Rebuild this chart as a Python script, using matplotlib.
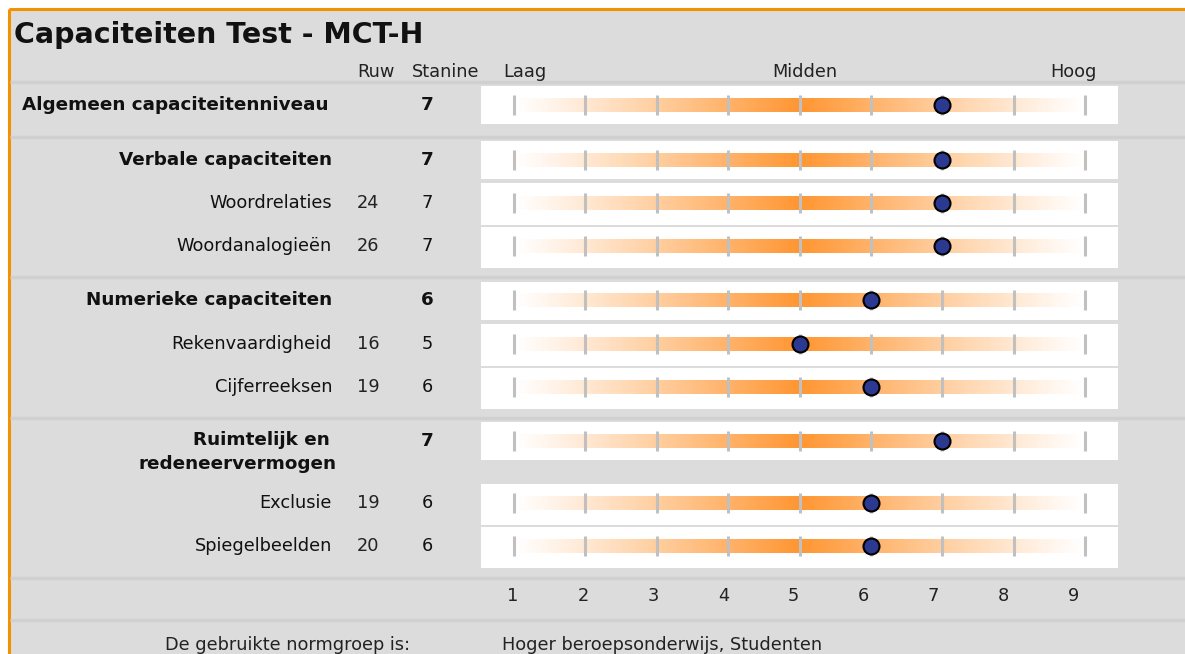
import numpy as np
import matplotlib.pyplot as plt
from matplotlib.colors import LinearSegmentedColormap

# data
labels = ['Algemeen capaciteitenniveau', 'Verbale capaciteiten', 'Woordrelaties',
          'Woordanalogieën', 'Numerieke capaciteiten', 'Rekenvaardigheid',
          'Cijferreeksen', 'Ruimtelijk en \nredeneervermogen', 'Exclusie', 'Spiegelbeelden']
ruw = ['', '', '24', '26', '', '16', '19', '', '19', '20']
stanine = [7, 7, 7, 7, 6, 5, 6, 7, 6, 6]
is_header = [True, True, False, False, True, False, False, True, False, False]
scale_ticks = [1, 2, 3, 4, 5, 6, 7, 8, 9]
scale_words = ['Laag', 'Midden', 'Hoog']
title = 'Capaciteiten Test - MCT-H'
norm_label = 'De gebruikte normgroep is:'
norm_value = 'Hoger beroepsonderwijs, Studenten'

# layout (pixels)
W, H = 1185, 654
row_y = [105, 160, 203, 246, 300, 344, 387, 441, 503, 546]
box_top = [86, 141, 183, 227, 282, 324, 368, 422, 484, 527]
box_bot = [124, 179, 225, 268, 320, 366, 409, 460, 525, 568]
seps = [82, 137, 277, 418, 578, 620]
x_lo, x_hi = 514, 1085
step = (x_hi - x_lo) / 8.0
fs = 12.8
fsb = 13.2


def sx(s):
    return x_lo + (s - 1) * step


fig = plt.figure(figsize=(W / 100, H / 100), dpi=100)
ax = fig.add_axes([0, 0, 1, 1])
ax.set_xlim(0, W)
ax.set_ylim(H, 0)
ax.axis('off')

grey = '#dcdcdc'
ax.add_patch(plt.Rectangle((9, 9), W, H, facecolor=grey, edgecolor='none'))
ax.plot([9, W], [9, 9], color='#f39200', lw=2.2, solid_capstyle='butt')
ax.plot([9, 9], [9, H], color='#f39200', lw=2.2, solid_capstyle='butt')

for y in seps:
    ax.plot([10, W], [y, y], color='#d0d0d0', lw=2.5, solid_capstyle='butt')

ax.text(14, 35, title, fontsize=20.5, fontweight='bold', va='center', ha='left', color='#111111')

hy = 72
ax.text(376, hy, 'Ruw', fontsize=fs, ha='center', va='center', color='#222222')
ax.text(446, hy, 'Stanine', fontsize=fs, ha='center', va='center', color='#222222')
ax.text(503, hy, scale_words[0], fontsize=fs, ha='left', va='center', color='#222222')
ax.text(805, hy, scale_words[1], fontsize=fs, ha='center', va='center', color='#222222')
ax.text(1097, hy, scale_words[2], fontsize=fs, ha='right', va='center', color='#222222')

orange = np.array([255, 150, 50]) / 255.0
cmap = LinearSegmentedColormap.from_list('grad', [(1, 1, 1), orange])
xs = np.linspace(1, 9, 600)
grad = (1 - np.abs(xs - 5) / 4) ** 1.1
grad = grad[np.newaxis, :]

for i in range(len(labels)):
    yc = row_y[i]
    ax.add_patch(plt.Rectangle((481, box_top[i]), 1118 - 481, box_bot[i] - box_top[i],
                               facecolor='white', edgecolor='none'))
    ax.imshow(grad, cmap=cmap, vmin=0, vmax=1, aspect='auto',
              extent=(x_lo, x_hi, yc + 7, yc - 7), interpolation='bilinear', zorder=2)
    for t in scale_ticks:
        ax.plot([sx(t), sx(t)], [yc - 10, yc + 10], color='#c0c0c0', lw=2.2,
                solid_capstyle='butt', zorder=3)
    ax.plot(sx(stanine[i]), yc, 'o', ms=11.5, mfc='#2b3990', mec='black', mew=1.5, zorder=4)

    weight = 'bold' if is_header[i] else 'normal'
    size = fsb if is_header[i] else fs
    if i == 0:
        ax.text(22, yc, labels[i], fontsize=size, fontweight='bold', ha='left', va='center', color='#111111')
    elif '\n' in labels[i]:
        ax.text(336, yc + 11, labels[i], fontsize=size, fontweight='bold', ha='right', va='center',
                multialignment='right', color='#111111', linespacing=1.45)
    else:
        ax.text(332, yc, labels[i], fontsize=size, fontweight=weight, ha='right', va='center', color='#111111')
    ax.text(368, yc, ruw[i], fontsize=fs, ha='center', va='center', color='#222222')
    ax.text(427, yc, str(stanine[i]), fontsize=size, fontweight=weight, ha='center', va='center', color='#111111')

for t in scale_ticks:
    ax.text(513 + (t - 1) * 70.1, 596, str(t), fontsize=fs, ha='center', va='center', color='#222222')

ax.text(410, 645, norm_label, fontsize=fs, ha='right', va='center', color='#222222')
ax.text(502, 645, norm_value, fontsize=fs, ha='left', va='center', color='#222222')

fig.savefig('out.png', dpi=100, facecolor='white')
